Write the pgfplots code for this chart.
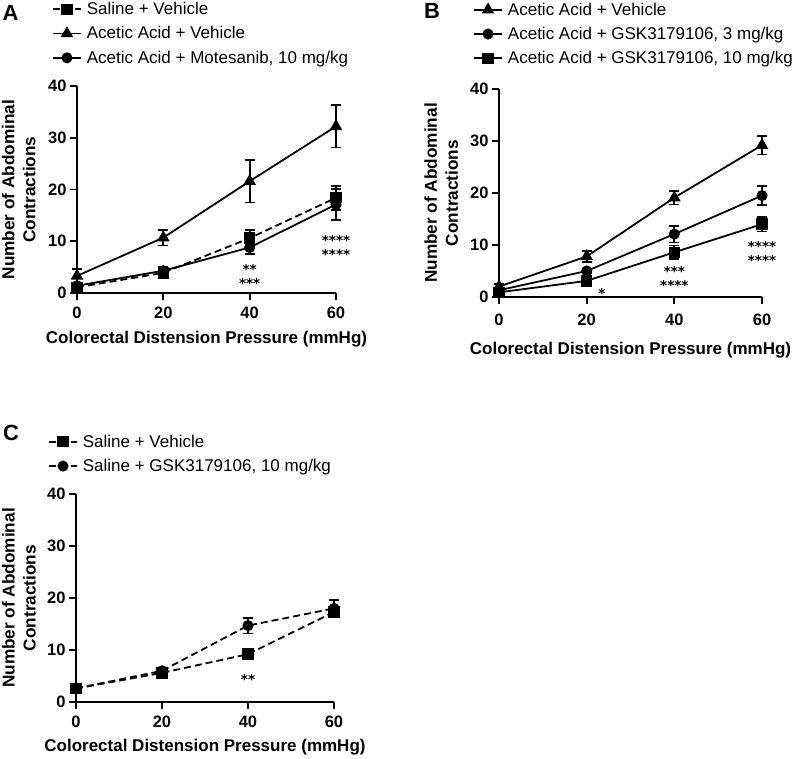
\documentclass[border=0pt]{standalone}
\usepackage{pgfplots}
\pgfplotsset{compat=1.18}
\usepackage{fontspec}
\setmainfont{Liberation Sans}
\newfontfamily\starfont{DejaVu Sans}

\pgfplotsset{
  panel/.style={
    scale only axis, xmin=0, xmax=60, ymin=0, ymax=40,
    axis lines=left, axis line style={-, line width=1.8pt},
    xtick={0,20,40,60}, ytick={0,10,20,30,40},
    tick align=outside, major tick length=7pt,
    major tick style={black, line width=1.8pt},
    /pgf/number format/assume math mode=true,
    ticklabel style={font=\bfseries\fontsize{16.5}{18}\selectfont},
    xticklabel style={yshift=-3pt},
    xlabel={Colorectal Distension Pressure (mmHg)},
    ylabel={Number of Abdominal\\Contractions},
    xlabel style={font=\bfseries\fontsize{17}{20}\selectfont, anchor=center},
    ylabel style={font=\bfseries\fontsize{17.2}{21}\selectfont, align=center, anchor=center},
    clip=false,
    legend style={draw=none, fill=none, inner sep=0pt, anchor=north west,
      font=\fontsize{17}{20}\selectfont, row sep=6.5pt},
    legend cell align=left,
    /tikz/every odd column/.append style={column sep=3pt},
    legend image code/.code={\draw[mark repeat=2,mark phase=2,##1] plot coordinates {(0pt,0pt) (14pt,0pt) (28pt,0pt)};},
  },
  ser/.style={black, line width=1.8pt, mark options={solid, fill=black},
    error bars/y dir=both, error bars/y explicit,
    error bars/error bar style={solid, line width=1.7pt},
    error bars/error mark options={rotate=90, mark size=5pt, line width=1.7pt, solid}},
  sq/.style={mark=square*, mark size=4.8pt},
  tri/.style={mark=triangle*, mark size=5.5pt},
  ci/.style={mark=*, mark size=4.6pt},
  dsh/.style={dash pattern=on 7pt off 4pt},
}
\tikzset{stars/.style={font=\starfont\bfseries\fontsize{13.5}{14.2}\selectfont, align=center, inner sep=1pt}}

\begin{document}
\begin{tikzpicture}[x=1pt,y=1pt]
\useasboundingbox (0,0) rectangle (799,758);

\node[font=\bfseries\fontsize{22}{24}\selectfont] at (10.5,745.5) {A};
\node[font=\bfseries\fontsize{22}{24}\selectfont] at (432,747) {B};
\node[font=\bfseries\fontsize{22}{24}\selectfont] at (11,325) {C};

% panel A
\begin{axis}[panel, at={(77pt,465pt)}, anchor=south west, width=259pt, height=207pt,
  xlabel style={at={(axis description cs:0.5,-0.225)}},
  ylabel style={at={(axis description cs:-0.225,0.5)}},
  legend style={at={(axis description cs:-0.097,1.415)}}]
\addplot[ser, sq, dsh] table[x=x, y=y, y error=e] {
x y e
0 1.1 0.5
20 3.9 0.7
40 10.6 1.6
60 18.4 2.3
};
\addplot[ser, tri] table[x=x, y=y, y error=e] {
x y e
0 3.3 1.3
20 10.7 1.5
40 21.6 4.1
60 32.2 4.1
};
\addplot[ser, ci] table[x=x, y=y, y error=e] {
x y e
0 1.4 0.5
20 4.3 0.8
40 8.8 1.3
60 17.1 3.0
};
\legend{Saline + Vehicle, Acetic Acid + Vehicle, {Acetic Acid + Motesanib, 10 mg/kg}}
\node[stars] at (axis cs:40,3.2) {**\\***};
\node[stars] at (axis cs:60,8.8) {****\\****};
\end{axis}

% panel B
\begin{axis}[panel, at={(499pt,461pt)}, anchor=south west, width=263pt, height=208pt,
  xticklabel style={yshift=-3pt},
  xlabel style={at={(axis description cs:0.5,-0.255)}},
  ylabel style={at={(axis description cs:-0.22,0.5)}},
  legend style={at={(axis description cs:-0.099,1.425)}}]
\addplot[ser, tri] table[x=x, y=y, y error=e] {
x y e
0 2.0 0.5
20 7.8 1.1
40 19.1 1.3
60 29.2 1.8
};
\addplot[ser, ci] table[x=x, y=y, y error=e] {
x y e
0 1.3 0.3
20 5.0 0.4
40 12.1 1.6
60 19.5 1.8
};
\addplot[ser, sq] table[x=x, y=y, y error=e] {
x y e
0 0.9 0.3
20 3.1 0.4
40 8.6 1.3
60 14.0 1.4
};
\legend{Acetic Acid + Vehicle, {Acetic Acid + GSK3179106, 3 mg/kg}, {Acetic Acid + GSK3179106, 10 mg/kg}}
\node[stars] at (axis cs:23.5,0.6) {*};
\node[stars] at (axis cs:40,3.5) {***\\****};
\node[stars] at (axis cs:60,8.3) {****\\****};
\end{axis}

% panel C
\begin{axis}[panel, at={(76pt,56pt)}, anchor=south west, width=258pt, height=208pt,
  xlabel style={at={(axis description cs:0.5,-0.216)}},
  ylabel style={at={(axis description cs:-0.221,0.5)}},
  legend style={at={(axis description cs:-0.109,1.295)}}]
\addplot[ser, sq, dsh] table[x=x, y=y, y error=e] {
x y e
0 2.6 0.6
20 5.6 0.8
40 9.2 1.0
60 17.3 1.0
};
\addplot[ser, ci, dsh] table[x=x, y=y, y error=e] {
x y e
0 2.6 0.5
20 6.0 0.5
40 14.7 1.5
60 18.0 1.6
};
\legend{Saline + Vehicle, {Saline + GSK3179106, 10 mg/kg}}
\node[stars] at (axis cs:40,4.3) {**};
\end{axis}
\end{tikzpicture}
\end{document}
